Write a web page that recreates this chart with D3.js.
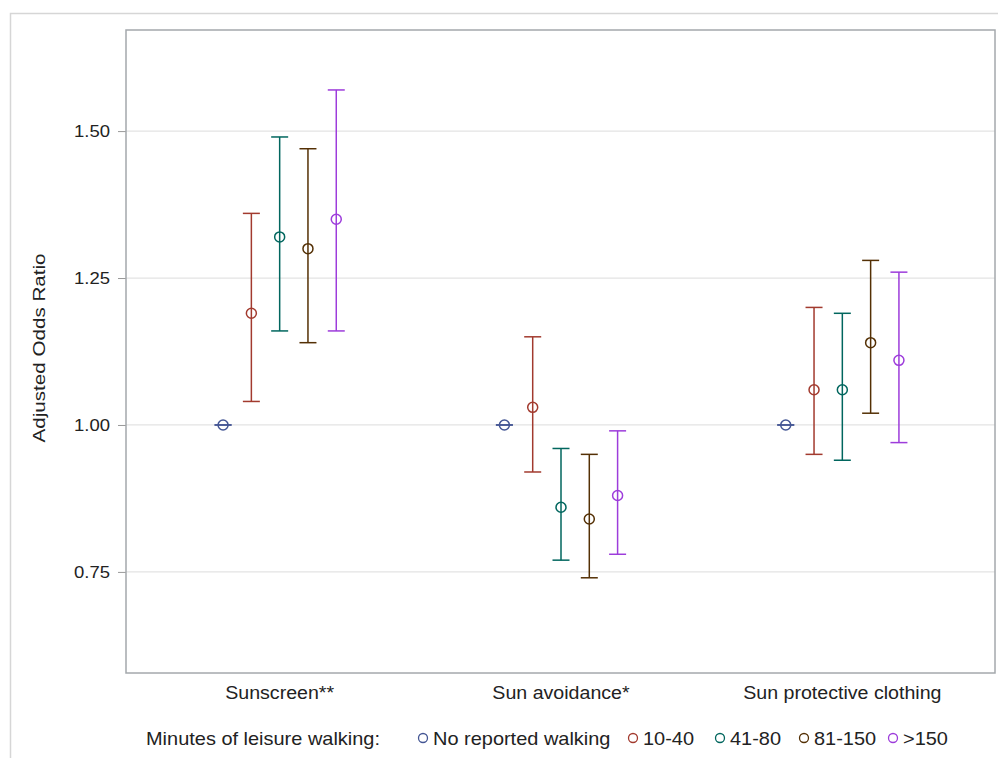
<!DOCTYPE html>
<html lang="en">
  <head>
    <meta charset="UTF-8" />
    <title>Adjusted Odds Ratio by leisure walking</title>
    <script src="https://d3js.org/d3.v7.min.js"></script>
    <style>
      body {
        margin: 0;
        background: #fff;
      }
      svg text {
        font-family: Arial, "Liberation Sans", sans-serif;
        fill: #222;
      }
    </style>
  </head>
  <body>
    <div id="chart"></div>
    <script>
      // categories and walking groups
      const categories = ["Sunscreen**", "Sun avoidance*", "Sun protective clothing"];
      const groups = ["No reported walking", "10-40", "41-80", "81-150", ">150"];
      const groupColors = ["#445694", "#a23a2e", "#01665e", "#543005", "#9d3cdb"];

      // one array per category, values in group order
      const sunscreenOR = [1.0, 1.19, 1.32, 1.3, 1.35];
      const sunscreenLow = [1.0, 1.04, 1.16, 1.14, 1.16];
      const sunscreenHigh = [1.0, 1.36, 1.49, 1.47, 1.57];

      const avoidanceOR = [1.0, 1.03, 0.86, 0.84, 0.88];
      const avoidanceLow = [1.0, 0.92, 0.77, 0.74, 0.78];
      const avoidanceHigh = [1.0, 1.15, 0.96, 0.95, 0.99];

      const clothingOR = [1.0, 1.06, 1.06, 1.14, 1.11];
      const clothingLow = [1.0, 0.95, 0.94, 1.02, 0.97];
      const clothingHigh = [1.0, 1.2, 1.19, 1.28, 1.26];

      const yTicks = [0.75, 1.0, 1.25, 1.5];

      const seriesOR = [sunscreenOR, avoidanceOR, clothingOR];
      const seriesLow = [sunscreenLow, avoidanceLow, clothingLow];
      const seriesHigh = [sunscreenHigh, avoidanceHigh, clothingHigh];

      const rows = [];
      categories.forEach((c, i) => {
        groups.forEach((g, j) => {
          rows.push({
            category: c,
            group: g,
            or: seriesOR[i][j],
            low: seriesLow[i][j],
            high: seriesHigh[i][j],
          });
        });
      });

      const width = 998;
      const height = 758;
      const frame = { left: 126, right: 995, top: 30, bottom: 673 };

      const svg = d3
        .select("#chart")
        .append("svg")
        .attr("width", width)
        .attr("height", height);

      // the source text is a bit wider than the font gives, stretch it
      function stretch(sel, factor) {
        sel.each(function () {
          const len = this.getComputedTextLength();
          d3.select(this)
            .attr("textLength", len * factor)
            .attr("lengthAdjust", "spacingAndGlyphs");
        });
      }

      // outer border
      svg
        .append("rect")
        .attr("x", 10.5)
        .attr("y", 13.5)
        .attr("width", 1000)
        .attr("height", 800)
        .attr("fill", "none")
        .attr("stroke", "#d6d6d6")
        .attr("stroke-width", 1.5);

      const x = d3
        .scaleBand()
        .domain(categories)
        .range([frame.left + 13, frame.right - 12]);

      const xInner = d3
        .scalePoint()
        .domain(groups)
        .range([-56.6, 56.6]);

      const y = d3
        .scaleLinear()
        .domain([0.578, 1.672])
        .range([frame.bottom, frame.top]);

      // grid lines
      svg
        .append("g")
        .selectAll("line")
        .data(yTicks)
        .join("line")
        .attr("x1", frame.left)
        .attr("x2", frame.right)
        .attr("y1", (d) => y(d))
        .attr("y2", (d) => y(d))
        .attr("stroke", "#e3e3e3")
        .attr("stroke-width", 1.2);

      // y axis
      const yAxis = svg
        .append("g")
        .attr("transform", `translate(${frame.left},0)`)
        .call(
          d3
            .axisLeft(y)
            .tickValues(yTicks)
            .tickFormat(d3.format(".2f"))
            .tickSize(8)
            .tickPadding(8)
        );
      yAxis.select(".domain").remove();
      yAxis.selectAll(".tick line").attr("stroke", "#999");
      yAxis
        .selectAll(".tick text")
        .attr("font-size", 16.5)
        .style("fill", "#222")
        .call(stretch, 1.12);

      // x labels
      svg
        .append("g")
        .selectAll("text")
        .data(categories)
        .join("text")
        .attr("x", (d) => x(d) + x.bandwidth() / 2)
        .attr("y", 698.5)
        .attr("text-anchor", "middle")
        .attr("font-size", 17.5)
        .text((d) => d)
        .call(stretch, 1.12);

      // y title
      svg
        .append("text")
        .attr("transform", `translate(45,348) rotate(-90)`)
        .attr("text-anchor", "middle")
        .attr("font-size", 16.5)
        .text("Adjusted Odds Ratio")
        .call(stretch, 1.25);

      // frame
      svg
        .append("rect")
        .attr("x", frame.left)
        .attr("y", frame.top)
        .attr("width", frame.right - frame.left)
        .attr("height", frame.bottom - frame.top)
        .attr("fill", "none")
        .attr("stroke", "#a4a8ac")
        .attr("stroke-width", 1.5);

      const color = d3.scaleOrdinal().domain(groups).range(groupColors);
      const px = (d) => x(d.category) + x.bandwidth() / 2 + xInner(d.group);
      const capW = 8.5;

      const marks = svg.append("g").selectAll("g").data(rows).join("g");

      marks
        .append("line")
        .attr("x1", px)
        .attr("x2", px)
        .attr("y1", (d) => y(d.low))
        .attr("y2", (d) => y(d.high))
        .attr("stroke", (d) => color(d.group))
        .attr("stroke-width", 1.5);

      ["low", "high"].forEach((k) => {
        marks
          .append("line")
          .attr("x1", (d) => px(d) - capW)
          .attr("x2", (d) => px(d) + capW)
          .attr("y1", (d) => y(d[k]))
          .attr("y2", (d) => y(d[k]))
          .attr("stroke", (d) => color(d.group))
          .attr("stroke-width", 1.5);
      });

      marks
        .append("circle")
        .attr("cx", px)
        .attr("cy", (d) => y(d.or))
        .attr("r", 5)
        .attr("fill", "none")
        .attr("stroke", (d) => color(d.group))
        .attr("stroke-width", 1.5);

      // legend
      const legend = svg.append("g").attr("transform", "translate(0,745)");
      legend
        .append("text")
        .attr("x", 146)
        .attr("font-size", 19)
        .text("Minutes of leisure walking:")
        .call(stretch, 1.05);

      const legendX = [423, 633, 720, 804, 893];
      const items = legend
        .selectAll("g.item")
        .data(groups)
        .join("g")
        .attr("class", "item")
        .attr("transform", (d, i) => `translate(${legendX[i]},0)`);
      items
        .append("circle")
        .attr("cy", -7)
        .attr("r", 4.5)
        .attr("fill", "none")
        .attr("stroke", (d) => color(d))
        .attr("stroke-width", 1.3);
      items
        .append("text")
        .attr("x", 10)
        .attr("font-size", 19)
        .text((d) => d)
        .call(stretch, 1.05);
    </script>
  </body>
</html>
